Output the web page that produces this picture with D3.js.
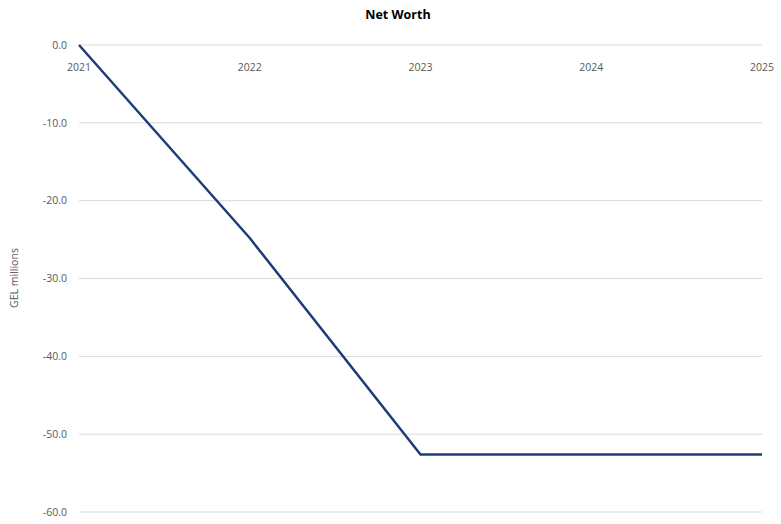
<!DOCTYPE html>
<html><head><meta charset="utf-8">
<script src="https://cdn.jsdelivr.net/npm/d3@7"></script>
<style>body{margin:0;background:#fff}svg{display:block;font-family:"Open Sans","Noto Sans",sans-serif}</style>
</head><body><svg id="c" width="781" height="524"></svg>
<script>
const categories = ["2021","2022","2023","2024","2025"];
const netWorth = [0.0, -24.8, -52.6, -52.6, -52.6];
const yTicks = [0, -10, -20, -30, -40, -50, -60];

const svg = d3.select("#c");
const x = d3.scalePoint().domain(categories).range([79, 762]);
const y = d3.scaleLinear().domain([-60, 0]).range([512, 45]);

svg.append("text").attr("x", 398).attr("y", 19).attr("text-anchor","middle")
  .attr("font-size", 12.5).attr("font-weight","bold").attr("fill","#000").text("Net Worth");

const g = svg.append("g");
g.selectAll("line.grid").data(yTicks).join("line")
  .attr("x1", 79).attr("x2", 762)
  .attr("y1", d => y(d)).attr("y2", d => y(d))
  .attr("stroke", "#d9d9d9").attr("stroke-width", 1);

g.selectAll("text.yl").data(yTicks).join("text")
  .attr("x", 67).attr("y", d => y(d)).attr("dy","0.35em")
  .attr("text-anchor","end").attr("font-size", 10.5).attr("fill","#595959")
  .text(d => d.toFixed(1));

g.selectAll("text.xl").data(categories).join("text")
  .attr("x", d => x(d)).attr("y", 71)
  .attr("text-anchor","middle").attr("font-size", 10.5).attr("fill","#595959")
  .text(d => d);

svg.append("text").attr("transform","translate(18,278) rotate(-90)")
  .attr("text-anchor","middle").attr("font-size", 10.5).attr("fill","#595959").text("GEL millions");

const line = d3.line().x((d,i) => x(categories[i])).y(d => y(d));
svg.append("path").datum(netWorth).attr("d", line)
  .attr("fill","none").attr("stroke","#1f3c7a").attr("stroke-width", 2.5);
</script></body></html>
